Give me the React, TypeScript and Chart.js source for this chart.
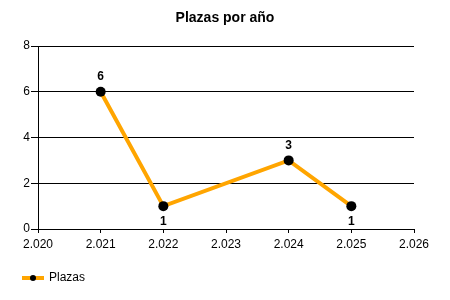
import React, { useEffect, useRef } from "react";
import { Chart, registerables } from "chart.js";

Chart.register(...registerables);

const years = [2021, 2022, 2024, 2025];
const plazas = [6, 1, 3, 1];
const labelPos = ["above", "below", "above", "below"];
const seriesName = "Plazas";
const title = "Plazas por año";
const FONT = "'Liberation Sans', Arial, sans-serif";
const ORANGE = "#FFA500";

const fmt = (v: number) => {
  const s = String(Math.round(v));
  return s.length > 3 ? s.slice(0, s.length - 3) + "." + s.slice(s.length - 3) : s;
};

const decor = {
  id: "decor",
  afterDatasetsDraw(chart: any) {
    const ctx = chart.ctx;
    const meta = chart.getDatasetMeta(0);
    ctx.save();
    ctx.fillStyle = "#000";
    ctx.font = `bold 12px ${FONT}`;
    ctx.textAlign = "center";
    ctx.textBaseline = "middle";
    meta.data.forEach((pt: any, i: number) => {
      const dy = labelPos[i] === "above" ? -15 : 16;
      ctx.fillText(String(plazas[i]), pt.x, pt.y + dy);
    });
    ctx.restore();
  },
  afterDraw(chart: any) {
    const ctx = chart.ctx;
    ctx.save();
    ctx.fillStyle = "#000";
    ctx.font = `bold 14px ${FONT}`;
    ctx.textAlign = "center";
    ctx.textBaseline = "middle";
    ctx.fillText(title, 225, 18);
    // legend
    ctx.strokeStyle = ORANGE;
    ctx.lineWidth = 4;
    ctx.beginPath();
    ctx.moveTo(22, 278);
    ctx.lineTo(44, 278);
    ctx.stroke();
    ctx.fillStyle = "#000";
    ctx.beginPath();
    ctx.arc(33, 278, 3, 0, Math.PI * 2);
    ctx.fill();
    ctx.font = `12px ${FONT}`;
    ctx.textAlign = "left";
    ctx.fillText(seriesName, 49, 278);
    ctx.restore();
  },
};

export default function App() {
  const ref = useRef<HTMLCanvasElement>(null);
  useEffect(() => {
    document.body.style.margin = "0";
    const chart = new Chart(ref.current!, {
      type: "line",
      data: {
        datasets: [
          {
            label: seriesName,
            data: years.map((y, i) => ({ x: y, y: plazas[i] })),
            borderColor: ORANGE,
            borderWidth: 4,
            pointBackgroundColor: "#000",
            pointBorderColor: "#000",
            pointRadius: 5,
            pointBorderWidth: 0,
            tension: 0,
          },
        ],
      },
      options: {
        animation: false,
        responsive: false,
        layout: { padding: { top: 46, right: 36, bottom: 51, left: 0 } },
        plugins: { legend: { display: false }, title: { display: false }, tooltip: { enabled: false } },
        scales: {
          x: {
            type: "linear",
            min: 2020,
            max: 2026,
            afterFit: (s: any) => { s.height = 20; },
            ticks: {
              stepSize: 1,
              color: "#000",
              font: { family: FONT, size: 12 },
              padding: 4,
              maxRotation: 0,
              callback: (v: any) => fmt(Number(v)),
            },
            grid: { drawOnChartArea: false, color: "#000", tickLength: 4, tickColor: "#000" },
            border: { color: "#000", width: 1 },
          },
          y: {
            min: 0,
            max: 8,
            afterFit: (s: any) => { s.width = 38; },
            ticks: { stepSize: 2, color: "#000", font: { family: FONT, size: 12 }, padding: 1 },
            grid: { color: "#000", tickLength: 7, tickColor: "#000" },
            border: { color: "#000", width: 1 },
          },
        },
      },
      plugins: [decor],
    } as any);
    return () => chart.destroy();
  }, []);
  return <canvas ref={ref} width={450} height={300} style={{ display: "block" }} />;
}
